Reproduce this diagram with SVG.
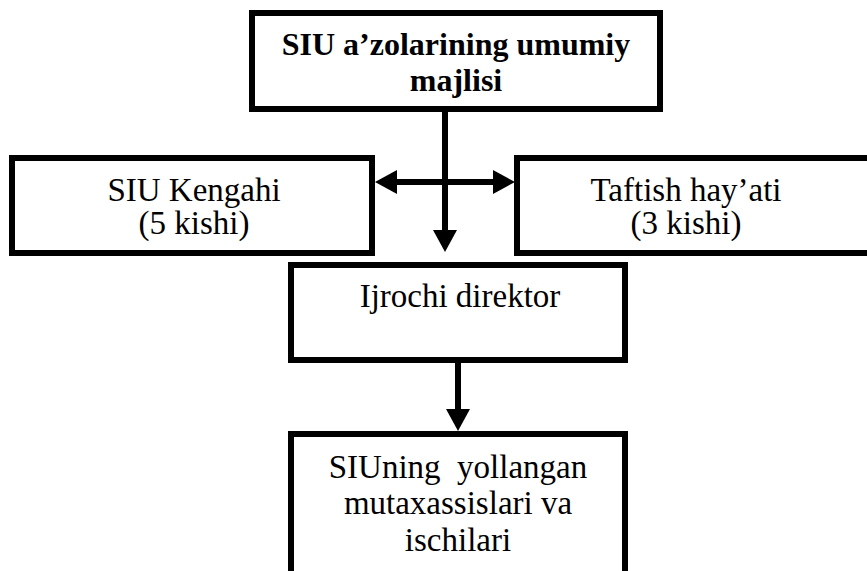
<svg xmlns="http://www.w3.org/2000/svg" width="867" height="571" viewBox="0 0 867 571">
<style>
.box{fill:#fff;stroke:#000;stroke-width:6}
text{font-family:'Liberation Serif','Times New Roman',serif;font-size:33px;fill:#000;text-anchor:middle}
.b{font-weight:bold;font-size:32px}
.ln{stroke:#000;stroke-width:6;fill:none}
.hd{fill:#000}
</style>
<rect width="867" height="571" fill="#fff"/>
<g id="node-umumiy-majlis">
<rect class="box" x="252" y="13" width="408" height="96"/>
<text class="b" x="456" y="55">SIU a’zolarining umumiy</text>
<text class="b" x="456" y="91">majlisi</text>
</g>
<g id="node-kengash">
<rect class="box" x="12" y="158" width="360" height="95"/>
<text x="194" y="201">SIU Kengahi</text>
<text x="194" y="234">(5 kishi)</text>
</g>
<g id="node-taftish">
<rect class="box" x="517" y="158" width="360" height="95"/>
<text x="686" y="201">Taftish hay’ati</text>
<text x="686" y="234">(3 kishi)</text>
</g>
<g id="node-direktor">
<rect class="box" x="291" y="265" width="334" height="95"/>
<text x="460" y="307">Ijrochi direktor</text>
</g>
<g id="node-xodimlar">
<rect class="box" x="291" y="434" width="334" height="200"/>
<text x="458" y="478" xml:space="preserve">SIUning  yollangan</text>
<text x="458" y="514">mutaxassislari va</text>
<text x="458" y="551">ischilari</text>
</g>
<g id="connectors">
<line class="ln" x1="445" y1="112" x2="445" y2="232"/>
<polygon class="hd" points="433,230 457,230 445,252"/>
<line class="ln" x1="395" y1="182" x2="495" y2="182"/>
<polygon class="hd" points="375,182 397,170 397,194"/>
<polygon class="hd" points="515,182 493,170 493,194"/>
<line class="ln" x1="458" y1="363" x2="458" y2="411"/>
<polygon class="hd" points="446,409 470,409 458,431"/>
</g>
</svg>
